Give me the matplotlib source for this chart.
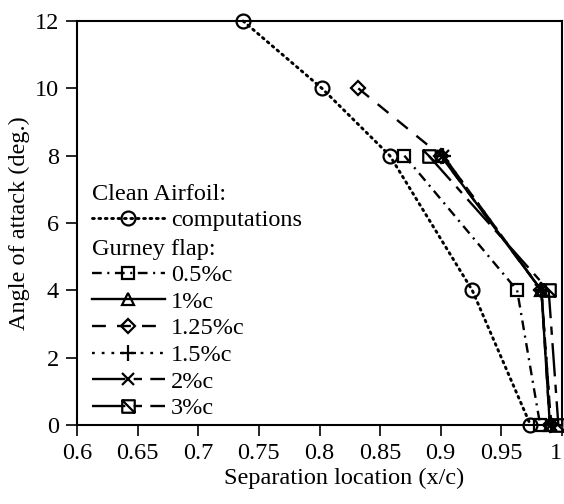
import matplotlib
matplotlib.use("Agg")
import matplotlib.pyplot as plt
from matplotlib.path import Path

plt.rcParams['font.family'] = ['Liberation Serif', 'DejaVu Serif']
plt.rcParams['lines.scale_dashes'] = False

# ---- data ----
clean_x = [0.737, 0.802, 0.858, 0.926, 0.974]
clean_y = [12, 10, 8, 4, 0]

g05_x = [0.870, 0.963, 0.982]
g05_y = [8, 4, 0]
g1_x = [0.900, 0.983, 0.990]
g1_y = [8, 4, 0]
g125_x = [0.832, 0.900, 0.983, 0.990]
g125_y = [10, 8, 4, 0]
g15_x = [0.902, 0.983, 0.991]
g15_y = [8, 4, 0]
g2_x = [0.902, 0.983, 0.991]
g2_y = [8, 4, 0]
g3_x = [0.890, 0.989, 0.997]
g3_y = [8, 4, 0]

xticks = [0.6, 0.65, 0.7, 0.75, 0.8, 0.85, 0.9, 0.95, 1.0]
xtick_labels = ['0.6', '0.65', '0.7', '0.75', '0.8', '0.85', '0.9', '0.95', '1']
yticks = [0, 2, 4, 6, 8, 10, 12]

FS = 17.5

# ---- figure ----
fig = plt.figure(figsize=(5.64, 5.04), dpi=100)
ax = fig.add_axes([77/564, 1-425/504, 485/564, 404/504])

sq_diag = Path([(-1, -1), (1, -1), (1, 1), (-1, 1), (-1, -1), (-1, 1), (1, -1)],
               [Path.MOVETO, Path.LINETO, Path.LINETO, Path.LINETO, Path.CLOSEPOLY,
                Path.MOVETO, Path.LINETO])

lw = 1.7
mew = 1.6
common = dict(color='black', lw=lw, mfc='none', mec='black', mew=mew, clip_on=False)

h_clean, = ax.plot(clean_x, clean_y, linestyle=(0, (1.3, 3.3)), marker='o', ms=10,
                   dash_capstyle='round', label='computations', **{**common, 'lw': 2.1})
h05, = ax.plot(g05_x, g05_y, linestyle=(0, (7, 4, 1.5, 4)), marker='s', ms=9,
               label='0.5%c', **common)
h1, = ax.plot(g1_x, g1_y, linestyle='-', marker='^', ms=9, label='1%c', **common)
h125, = ax.plot(g125_x, g125_y, linestyle=(0, (10, 8)), marker='D', ms=7,
                label='1.25%c', **common)
h15, = ax.plot(g15_x, g15_y, linestyle=(0, (2, 5)), marker='+', ms=11,
               label='1.5%c', **common)
h2, = ax.plot(g2_x, g2_y, linestyle=(0, (24, 6, 6, 6)), marker='x', ms=9,
              label='2%c', **common)
h3, = ax.plot(g3_x, g3_y, linestyle=(0, (24, 6, 6, 6)), marker=sq_diag, ms=9,
              label='3%c', **common)

ax.set_xlim(0.6, 1.0)
ax.set_ylim(0, 12)
ax.set_xticks(xticks)
ax.set_xticklabels(xtick_labels)
ax.get_xticklabels()[-1].set_ha('right')
ax.set_yticks(yticks)
ax.tick_params(direction='out', length=8, width=1.2, labelsize=FS, pad=5)
for s in ax.spines.values():
    s.set_linewidth(1.5)

ax.set_xlabel('Separation location (x/c)', fontsize=FS, labelpad=1)
ax.xaxis.set_label_coords(0.55, -0.105)
ax.set_ylabel('Angle of attack (deg.)', fontsize=FS, labelpad=3)

leg_kw = dict(frameon=False, fontsize=FS, title_fontsize=FS, handlelength=3.0,
              handletextpad=0.25, labelspacing=0.19, borderpad=0, borderaxespad=0,
              alignment='left', loc='upper left')
leg1 = ax.legend(handles=[h_clean], title='Clean Airfoil:',
                 bbox_to_anchor=(0.031, 1 - (184 - 21) / 404), **leg_kw)
ax.add_artist(leg1)
leg2 = ax.legend(handles=[h05, h1, h125, h15, h2, h3], title='Gurney flap:',
                 bbox_to_anchor=(0.031, 1 - (239 - 21) / 404), **leg_kw)
for lg in (leg1, leg2):
    lg._legend_box.sep = 3

fig.savefig('out.png', dpi=100)
